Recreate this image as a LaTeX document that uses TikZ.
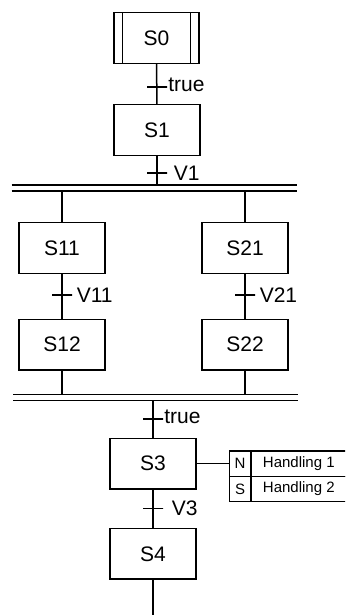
\documentclass[tikz,border=0pt]{standalone}
\usepackage{fontspec}
\setmainfont{Liberation Sans}
\usetikzlibrary{positioning, calc}

\begin{document}
\begin{tikzpicture}[
    x=1pt, y=-1pt,
    line width=1.5pt,
    stepbox/.style={draw, rectangle, minimum width=86pt, minimum height=50.6pt, inner sep=0pt, outer sep=0pt, font=\fontsize{21}{24}\selectfont},
    tick/.style={draw, rectangle, minimum width=20pt, minimum height=0pt, inner sep=0pt, outer sep=0pt},
    cond/.style={inner sep=0pt, font=\fontsize{21}{24}\selectfont},
    bar/.style={rectangle, minimum width=285pt, minimum height=5.7pt, inner sep=0pt, outer sep=0pt},
    qual/.style={draw, line width=1.2pt, rectangle, minimum width=21.5pt, minimum height=25.4pt, inner sep=0pt, outer sep=0pt, font=\fontsize{15}{17}\selectfont},
    act/.style={draw, line width=1.2pt, rectangle, minimum width=96pt, minimum height=25.4pt, inner sep=0pt, outer sep=0pt, font=\fontsize{15}{17}\selectfont},
]
    \useasboundingbox (0,0) rectangle (345,615);
    \clip (0,0) rectangle (345,615);

    % Steps
    \node[stepbox, minimum width=85pt] (s0) at (156.5,38) {S0};
    \node[stepbox] (s1) at (157,130) {S1};
    \node[stepbox] (s11) at (62,248) {S11};
    \node[stepbox] (s21) at (245,248) {S21};
    \node[stepbox] (s12) at (62,344.7) {S12};
    \node[stepbox] (s22) at (245,344.7) {S22};
    \node[stepbox] (s3) at (153,463.7) {S3};
    \node[stepbox] (s4) at (153,553.8) {S4};
    \coordinate (end) at (153,620);

    % initial step
    \draw ([xshift=8.5pt]s0.north west) -- ([xshift=8.5pt]s0.south west);
    \draw ([xshift=-8.5pt]s0.north east) -- ([xshift=-8.5pt]s0.south east);

    % Transitions
    \node[tick] (t0) at (157,87) {};
    \node[cond, right=0.5pt of t0, yshift=2pt] {true};
    \node[tick] (t1) at (157,173) {};
    \node[cond, right=6pt of t1] {V1};
    \node[tick] (t11) at (62,295) {};
    \node[cond, right=4pt of t11] {V11};
    \node[tick] (t21) at (245,295) {};
    \node[cond, right=4pt of t21] {V21};
    \node[tick] (t2) at (153,419) {};
    \node[cond, right=0.5pt of t2, yshift=2pt] {true};
    \node[tick] (t3) at (153,508.5) {};
    \node[cond, right=8pt of t3] {V3};

    % Parallel bars
    \node[bar] (b1) at (154.2,188) {};
    \node[bar] (b2) at (155.8,397.5) {};
    \draw (b1.north west) -- (b1.north east);
    \draw (b1.south west) -- (b1.south east);
    \draw (b2.north west) -- (b2.north east);
    \draw (b2.south west) -- (b2.south east);

    % Actions
    \node[qual, anchor=north west] (q1) at (229.3,451) {N};
    \node[act, anchor=west] (a1) at (q1.east) {Handling 1};
    \node[qual, below=0pt of q1] (q2) {S};
    \node[act, below=0pt of a1] (a2) {Handling 2};
    \draw[line width=2.3pt] (q1.north east) -- (q2.south east);

    % Links
    \draw (s0) -- (s1);
    \draw (s1) -- (s1 |- b1.north);
    \draw (b1.south -| s11) -- (s11);
    \draw (b1.south -| s21) -- (s21);
    \draw (s11) -- (s12);
    \draw (s21) -- (s22);
    \draw (s12) -- (s12 |- b2.north);
    \draw (s22) -- (s22 |- b2.north);
    \draw (b2.south -| s3) -- (s3);
    \draw (s3) -- (q1);
    \draw (s3) -- (s4);
    \draw (s4) -- (end);
\end{tikzpicture}
\end{document}
